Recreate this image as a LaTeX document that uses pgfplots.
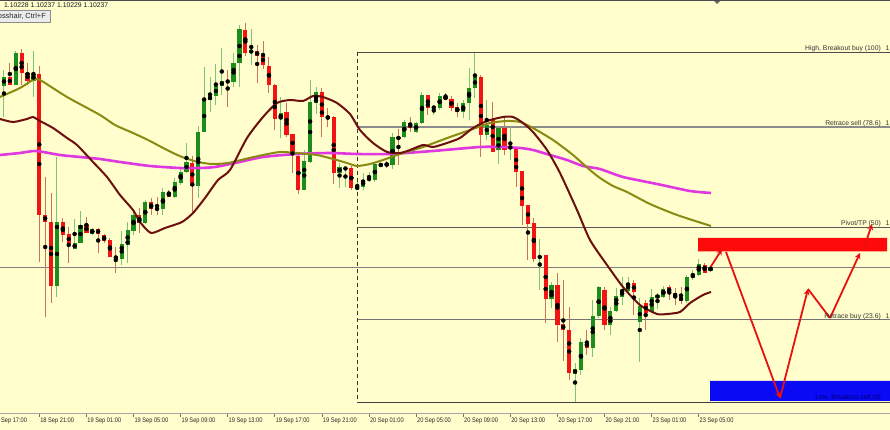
\documentclass[border=0pt]{standalone}
\usepackage{pgfplots}
\pgfplotsset{compat=1.18}
\usepackage{pgfplotstable}
\usepackage{fontspec}
\setmainfont{Liberation Sans}
\newfontfamily\tickfont[FakeStretch=0.86]{Liberation Sans}
\usetikzlibrary{arrows.meta}
\definecolor{bgyellow}{HTML}{FFFECC}
\definecolor{upbody}{HTML}{1C8C1C}
\definecolor{upwick}{HTML}{7CC47C}
\definecolor{dnbody}{HTML}{F01414}
\definecolor{dnwick}{HTML}{C8745E}
\definecolor{maA}{HTML}{E038E0}
\definecolor{maB}{HTML}{8A8A12}
\definecolor{maC}{HTML}{6E0F0F}
\definecolor{boxred}{HTML}{FF0A0A}
\definecolor{boxblue}{HTML}{0A0AF5}
\definecolor{arrowred}{HTML}{E81010}

% candles: n = bar index (30 min bars), o h l c = screen rows (pixels from top)
\pgfplotstableread{
n o h l c
-6 86 70 117 77
-4 85 51 85 53
-1 81 51 97 74
3 286 157 297 222
6 249 219 249 243
7 243 211 243 225
9 234 228 235 229
14 259 231 265 244
15 245 222 263 230
16 231 209 235 215
18 223 200 224 202
21 209 188 215 192
23 197 178 198 182
24 183 167 185 172
25 172 143 173 162
27 186 126 198 132
28 132 67 132 100
29 100 77 112 96
30 96 64 105 86
31 86 48 95 81
33 82 53 87 63
34 63 25 87 29
36 52 29 65 51
41 119 97 138 113
45 190 150 190 161
46 162 80 163 102
47 103 87 114 92
51 173 163 188 167
52 169 166 187 168
54 189 182 190 187
55 187 173 190 180
56 180 172 182 178
57 180 162 182 164
58 166 163 167 164
60 165 133 169 137
62 137 120 138 122
64 132 122 133 123
65 123 92 124 95
67 108 106 115 107
68 108 93 110 96
72 112 100 118 103
73 103 68 120 88
74 88 53 98 77
76 135 100 140 125
78 150 127 164 128
80 148 127 160 147
85 258 239 290 256
87 299 282 308 285
91 374 363 402 369
92 370 338 375 342
94 348 300 357 316
95 316 286 318 287
97 325 307 335 311
98 311 288 312 296
99 297 277 305 290
100 291 277 292 283
102 322 298 362 306
104 312 289 313 297
105 298 293 309 295
106 297 286 298 289
110 301 275 303 277
111 278 270 280 274
112 275 259 276 264
114 271 266 272 267
}\upc

\pgfplotstableread{
n o h l c
-5 77 63 85 85
-3 53 49 85 73
-2 73 63 85 81
0 74 66 262 215
1 215 177 317 222
2 222 193 303 286
4 222 218 242 235
5 234 227 263 244
8 225 217 233 233
10 229 228 253 234
11 235 234 243 241
12 240 238 257 257
13 256 247 273 259
17 215 208 233 223
19 202 198 215 209
20 208 197 215 210
22 192 190 197 197
26 163 156 213 186
32 81 70 107 82
35 30 23 56 53
37 51 45 83 56
38 55 41 69 65
39 66 57 93 85
40 85 84 130 119
42 112 103 137 135
43 134 134 173 152
44 156 152 194 190
48 92 88 137 117
49 116 108 127 119
50 117 116 184 173
53 168 166 190 188
59 163 161 168 166
61 137 129 165 139
63 123 117 132 128
66 95 95 115 108
69 97 93 100 99
70 99 96 111 108
71 107 103 117 112
75 77 75 157 135
77 120 102 152 152
79 128 117 155 150
81 148 147 187 172
82 171 171 225 206
83 205 205 260 224
84 223 218 262 259
86 255 255 323 299
88 285 273 342 325
89 324 280 361 330
90 330 307 380 373
93 342 330 355 348
96 290 287 330 325
101 283 280 315 292
103 303 300 330 313
107 287 285 300 293
108 293 288 305 297
109 297 287 304 301
113 265 263 273 273
}\dnc

\pgfplotsset{
  wickstyle/.style={only marks, mark=none, forget plot,
    error bars/.cd, y dir=both, y explicit, error mark=none,
    error bar style={line width=1pt, color=#1}},
  bodystyle/.style={only marks, mark=none, forget plot,
    error bars/.cd, y dir=both, y explicit, error mark=none,
    error bar style={line width=4.2pt, color=#1}},
}

\begin{document}
\begin{tikzpicture}
\useasboundingbox (0,0) rectangle (890pt,430pt);
\clip (0,0) rectangle (890pt,430pt);
\fill[bgyellow] (0,0) rectangle (890pt,430pt);
\begin{axis}[
  at={(0pt,17pt)}, anchor=south west,
  scale only axis, width=890pt, height=413pt,
  xmin=0, xmax=890, ymin=-413, ymax=0,
  clip=false,
  axis line style={draw=none},
  ytick=\empty,
  xtick={39.3,86.4,133.5,180.6,227.7,274.8,321.9,369.0,416.1,463.2,510.3,557.4,604.5,651.6,698.7},
  xticklabels={18 Sep 21:00,19 Sep 01:00,19 Sep 05:00,19 Sep 09:00,19 Sep 13:00,19 Sep 17:00,19 Sep 21:00,20 Sep 01:00,20 Sep 05:00,20 Sep 09:00,20 Sep 13:00,20 Sep 17:00,20 Sep 21:00,23 Sep 01:00,23 Sep 05:00},
  xtick pos=left,
  tick align=outside,
  major tick length=4pt,
  xtick style={draw=black!55, line width=0.7pt},
  xticklabel style={anchor=north west, inner sep=0pt, xshift=0.8pt, yshift=-0.5pt,
    font=\tickfont\fontsize{6.6}{7}\selectfont, text=black!85},
]
% bottom border
\addplot[black!35, line width=0.8pt, forget plot] coordinates {(0,-413) (890,-413)};
% fibonacci frame
\addplot[black!70, line width=0.8pt] coordinates {(357,-52) (890,-52)};
\addplot[black!45, line width=1.5pt] coordinates {(357,-127) (890,-127)};
\addplot[black!65, line width=0.8pt] coordinates {(357,-227) (890,-227)};
\addplot[black!50, line width=0.8pt] coordinates {(0,-267) (890,-267)};
\addplot[black!55, line width=1pt] coordinates {(357,-320) (890,-320)};
\addplot[black!75, line width=0.8pt] coordinates {(357,-402) (890,-402)};
\addplot[black!80, line width=0.8pt, dash pattern=on 4pt off 3pt] coordinates {(357,-52) (357,-402)};

% candles
\addplot[wickstyle=upwick] table[x expr={39.3+5.8875*\thisrow{n}}, y expr={-(\thisrow{h}+\thisrow{l})/2}, y error expr={(\thisrow{l}-\thisrow{h})/2}] {\upc};
\addplot[wickstyle=dnwick] table[x expr={39.3+5.8875*\thisrow{n}}, y expr={-(\thisrow{h}+\thisrow{l})/2}, y error expr={(\thisrow{l}-\thisrow{h})/2}] {\dnc};
\addplot[bodystyle=upbody] table[x expr={39.3+5.8875*\thisrow{n}}, y expr={-(\thisrow{o}+\thisrow{c})/2}, y error expr={max(abs(\thisrow{o}-\thisrow{c})/2,0.8)}] {\upc};
\addplot[bodystyle=dnbody] table[x expr={39.3+5.8875*\thisrow{n}}, y expr={-(\thisrow{o}+\thisrow{c})/2}, y error expr={max(abs(\thisrow{o}-\thisrow{c})/2,0.8)}] {\dnc};

% moving averages
\addplot[maA, line width=2.6pt, smooth, tension=0.4] coordinates {(0,-155) (20,-153) (36,-151) (60,-155) (80,-157) (100,-159) (120,-162) (150,-166) (180,-168) (200,-168) (215,-167) (235,-163) (263,-157) (297,-154) (330,-153) (357,-154) (390,-154) (433,-151) (480,-147) (500,-147) (520,-148) (533,-150) (550,-155) (567,-160) (583,-166) (600,-169) (623,-177) (657,-184) (690,-191) (711,-193)};
\addplot[maB, line width=2pt, smooth, tension=0.4] coordinates {(0,-97) (20,-88) (33,-80) (40,-80) (67,-97) (100,-115) (115,-125) (133,-133) (148,-140) (167,-150) (182,-157) (198,-162) (212,-164) (228,-163) (245,-159) (263,-155) (280,-152) (297,-153) (317,-155) (333,-159) (347,-163) (357,-166) (370,-164) (383,-160) (400,-154) (423,-147) (450,-137) (473,-129) (490,-123) (507,-121) (520,-122) (533,-128) (553,-140) (573,-155) (590,-170) (600,-178) (613,-186) (627,-192) (650,-204) (677,-215) (711,-226)};
\addplot[maC, line width=2pt, smooth, tension=0.4] coordinates {(0,-119) (13,-122) (27,-119) (33,-117) (40,-121) (53,-128) (67,-138) (77,-145) (93,-162) (107,-177) (120,-195) (133,-210) (140,-222) (151,-233) (165,-228) (182,-222) (193,-213) (205,-198) (218,-180) (230,-170) (247,-138) (263,-117) (277,-103) (290,-100) (303,-101) (313,-96) (323,-97) (337,-103) (350,-114) (360,-130) (373,-143) (387,-152) (400,-153) (410,-150) (423,-145) (433,-147) (447,-143) (460,-138) (473,-128) (487,-121) (503,-117) (513,-117) (523,-123) (533,-132) (547,-150) (560,-173) (577,-210) (590,-240) (607,-265) (623,-287) (640,-305) (657,-314) (667,-314) (680,-312) (690,-303) (703,-295) (711,-292)};

% zones
\addplot[draw=none, fill=boxred] coordinates {(698,-238) (887,-238) (887,-251.5) (698,-251.5) (698,-238)};
\addplot[draw=none, fill=boxblue] coordinates {(710,-381) (890,-381) (890,-401) (710,-401) (710,-381)};
% top marker
\addplot[draw=none, fill=black!60] coordinates {(713,0) (721,0) (717,-4) (713,0)};

% projected path
\addplot[arrowred, line width=1.8pt, -{Stealth[length=6pt,width=6pt]}] coordinates {(710,-268) (722,-249)};
\addplot[arrowred, line width=1.8pt, -{Stealth[length=6pt,width=6pt]}] coordinates {(726,-252) (780,-398)};
\addplot[arrowred, line width=1.8pt, -{Stealth[length=6pt,width=6pt]}] coordinates {(780,-398) (808,-289)};
\addplot[arrowred, line width=1.8pt] coordinates {(808,-289) (830,-318)};
\addplot[arrowred, line width=1.8pt, -{Stealth[length=6pt,width=6pt]}] coordinates {(830,-318) (860,-253)};
\addplot[arrowred, line width=1.8pt, -{Stealth[length=6pt,width=6pt]}] coordinates {(864,-248) (872,-224)};

% level labels
\begin{scope}[every node/.style={font=\fontsize{6.8}{7}\selectfont, inner sep=0pt, text=black!80}]
\node[anchor=base east] at (axis cs:881,-51) {High, Breakout buy (100)};
\node[anchor=base east] at (axis cs:889.5,-51) {1};
\node[anchor=base east] at (axis cs:881,-126) {Retrace sell (78.6)};
\node[anchor=base east] at (axis cs:889.5,-126) {1};
\node[anchor=base east] at (axis cs:881,-225.5) {Pivot/TP (50)};
\node[anchor=base east] at (axis cs:889.5,-225.5) {1};
\node[anchor=base east] at (axis cs:881,-318.5) {Retrace buy (23.6)};
\node[anchor=base east] at (axis cs:889.5,-318.5) {1};
\node[anchor=base east, text=blue!45!black] at (axis cs:881,-400) {Low, Breakout sell (0)};
\node[anchor=north west, text=black!90] at (axis cs:4,-2.5) {1.10228 1.10237 1.10229 1.10237};
\end{scope}
% first (cut) time label
\node[anchor=north west, inner sep=0pt, font=\tickfont\fontsize{6.6}{7}\selectfont, text=black!85] at (axis cs:-7.0,-417.5) {18 Sep 17:00};
% top border
\addplot[black!70, line width=1.4pt, forget plot] coordinates {(0,-0.5) (890,-0.5)};
% crosshair tooltip
\addplot[draw=black!45, fill=white!92!black, line width=0.7pt] coordinates {(-3,-10) (50,-10) (50,-22.5) (-3,-22.5) (-3,-10)};
\node[anchor=east, inner sep=0pt, font=\fontsize{7.4}{8}\selectfont, text=black!85] at (axis cs:46,-16.3) {Crosshair, Ctrl+F};
\end{axis}
\end{tikzpicture}
\end{document}
